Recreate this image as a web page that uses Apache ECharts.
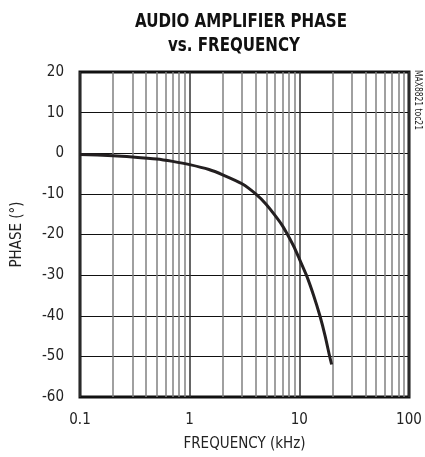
<!DOCTYPE html>
<html><head><meta charset="utf-8">
<script src="https://cdn.jsdelivr.net/npm/echarts@6/dist/echarts.min.js"></script>
<style>html,body{margin:0;padding:0;background:#fff}#c{width:425px;height:457px}</style>
</head><body><div id="c"></div>
<script>
const freqKHz = [0.1, 0.2, 0.3, 0.5, 0.7, 1, 1.5, 2, 3, 4, 5, 6, 7, 7.8, 9, 10, 11.6, 13.5, 15.4, 17.2, 18.9, 19.7];
const phaseDeg = [-0.3, -0.6, -0.9, -1.4, -2.0, -2.8, -4.0, -5.3, -7.5, -10, -12.6, -15.3, -17.8, -20, -23.2, -26, -30, -35, -40, -45, -50, -52];
const minorGridFreq = [0.2,0.3,0.4,0.5,0.6,0.7,0.8,0.9,2,3,4,5,6,7,8,9,20,30,40,50,60,70,80,90];
const xTickLabels = ['0.1','1','10','100'];
const yTicks = [20,10,0,-10,-20,-30,-40,-50,-60];
const titleLines = ['AUDIO AMPLIFIER PHASE', 'vs. FREQUENCY'];
const sideNote = 'MAX8821 toc21';

const FONT = '"DejaVu Sans Condensed","Liberation Sans Narrow",sans-serif';
const TITLE_FONT = 'bold 19px "DejaVu Sans Condensed", sans-serif';
const ctx = document.createElement('canvas').getContext('2d');
function widthOf(text, font) { ctx.font = font; return ctx.measureText(text).width; }
const s1 = 212 / widthOf(titleLines[0], TITLE_FONT);
const NOTE_FONT = '10px ' + FONT;
const sn = 60 / widthOf(sideNote, NOTE_FONT);

const chart = echarts.init(document.getElementById('c'));
chart.setOption({
  animation: false,
  graphic: [
    {type: 'text', x: 241, y: 22, scaleX: s1, style: {text: titleLines[0], font: TITLE_FONT, fill: '#111', align: 'center', verticalAlign: 'middle'}},
    {type: 'text', x: 234, y: 46, scaleX: s1, style: {text: titleLines[1], font: TITLE_FONT, fill: '#111', align: 'center', verticalAlign: 'middle'}},
    {type: 'text', x: 418, y: 100, rotation: -Math.PI/2, scaleX: sn,
     style: {text: sideNote, font: NOTE_FONT, fill: '#222', align: 'center', verticalAlign: 'middle'}}
  ],
  grid: {left: 80, right: 16, top: 72, bottom: 59, show: true, borderColor: '#111', borderWidth: 3},
  xAxis: {
    type: 'log', logBase: 10, min: 0.1, max: 100,
    name: 'FREQUENCY (kHz)', nameLocation: 'middle', nameGap: 40,
    nameTextStyle: {fontFamily: FONT, fontSize: 15, color: '#222'},
    axisLine: {show: false}, axisTick: {show: false},
    axisLabel: {fontFamily: FONT, fontSize: 15, color: '#222', margin: 16,
      formatter: v => { const s = String(+v.toPrecision(3)); return xTickLabels.includes(s) ? s : ''; }},
    splitLine: {show: true, lineStyle: {color: '#333', width: 1.5}}
  },
  yAxis: {
    type: 'value', min: -60, max: 20, interval: 10,
    name: 'PHASE (°)', nameLocation: 'middle', nameGap: 55,
    nameTextStyle: {fontFamily: FONT, fontSize: 15, color: '#222'},
    axisLine: {show: false}, axisTick: {show: false},
    axisLabel: {fontFamily: FONT, fontSize: 15, color: '#222', margin: 16,
      formatter: v => yTicks.includes(v) ? String(v) : ''},
    splitLine: {show: true, lineStyle: {color: '#111', width: 1}}
  },
  series: [{
    type: 'line',
    data: freqKHz.map((f, i) => [f, phaseDeg[i]]),
    smooth: 0.2, showSymbol: false,
    lineStyle: {color: '#231f20', width: 3},
    z: 5,
    markLine: {
      silent: true, symbol: 'none', label: {show: false},
      lineStyle: {color: '#808080', width: 1.5, type: 'solid'},
      data: minorGridFreq.map(f => ({xAxis: f}))
    }
  }]
});
</script></body></html>
